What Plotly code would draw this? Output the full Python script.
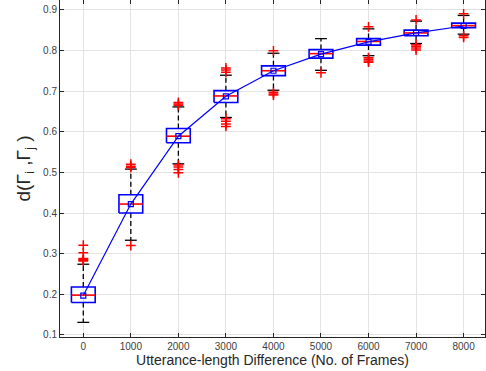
import plotly.graph_objects as go

positions = [0, 1000, 2000, 3000, 4000, 5000, 6000, 7000, 8000]
lower_whisker = [0.131, 0.333, 0.521, 0.635, 0.702, 0.751, 0.787, 0.817, 0.840]
q1 = [0.180, 0.400, 0.573, 0.672, 0.738, 0.781, 0.813, 0.836, 0.856]
median = [0.198, 0.422, 0.589, 0.688, 0.750, 0.792, 0.822, 0.843, 0.861]
q3 = [0.218, 0.445, 0.608, 0.701, 0.762, 0.802, 0.829, 0.850, 0.867]
upper_whisker = [0.274, 0.508, 0.661, 0.739, 0.793, 0.829, 0.853, 0.872, 0.886]
means = [0.197, 0.422, 0.589, 0.687, 0.750, 0.791, 0.821, 0.843, 0.860]
outliers = [
    [0.321, 0.302, 0.288, 0.286, 0.284, 0.282],
    [0.520, 0.515, 0.512, 0.320],
    [0.672, 0.668, 0.665, 0.518, 0.513, 0.507, 0.499],
    [0.757, 0.752, 0.746, 0.632, 0.626, 0.619, 0.613],
    [0.799, 0.697, 0.693, 0.690],
    [0.745],
    [0.858, 0.782, 0.778, 0.774, 0.771],
    [0.875, 0.814, 0.810, 0.806, 0.801],
    [0.890, 0.836, 0.832],
]
x_ticks = [0, 1000, 2000, 3000, 4000, 5000, 6000, 7000, 8000]
y_ticks = [0.1, 0.2, 0.3, 0.4, 0.5, 0.6, 0.7, 0.8, 0.9]

BOX_HW = 250
CAP_HW = 125

bx, by = [], []
mx, my = [], []
wx, wy = [], []
cx, cy = [], []
for p, lo, a, m, b, hi in zip(positions, lower_whisker, q1, median, q3, upper_whisker):
    bx += [p - BOX_HW, p + BOX_HW, p + BOX_HW, p - BOX_HW, p - BOX_HW, None]
    by += [a, a, b, b, a, None]
    mx += [p - BOX_HW, p + BOX_HW, None]
    my += [m, m, None]
    wx += [p, p, None, p, p, None]
    wy += [b, hi, None, a, lo, None]
    cx += [p - CAP_HW, p + CAP_HW, None, p - CAP_HW, p + CAP_HW, None]
    cy += [hi, hi, None, lo, lo, None]

ox, oy = [], []
for p, outs in zip(positions, outliers):
    for v in outs:
        ox.append(p)
        oy.append(v)

fig = go.Figure()
fig.add_trace(go.Scatter(x=wx, y=wy, mode="lines", line=dict(color="black", width=1.3, dash="5px,3px"), hoverinfo="skip"))
fig.add_trace(go.Scatter(x=cx, y=cy, mode="lines", line=dict(color="black", width=1.3), hoverinfo="skip"))
fig.add_trace(go.Scatter(x=ox, y=oy, mode="markers",
                         marker=dict(symbol="cross-thin", size=7, line=dict(color="red", width=1.5), color="red")))
fig.add_trace(go.Scatter(x=bx, y=by, mode="lines", line=dict(color="#0000ff", width=1.6), hoverinfo="skip"))
fig.add_trace(go.Scatter(x=mx, y=my, mode="lines", line=dict(color="red", width=1.6), hoverinfo="skip"))
fig.add_trace(go.Scatter(x=positions, y=means, mode="lines+markers",
                         line=dict(color="#0000ff", width=1.2),
                         marker=dict(symbol="square-open", size=5, color="#0000ff", line=dict(width=1.2))))

axis_common = dict(
    showline=True, linecolor="#262626", linewidth=1, mirror="ticks",
    ticks="inside", ticklen=4, tickcolor="#262626",
    showgrid=True, gridcolor="#e3e3e3", gridwidth=1, zeroline=False,
    automargin=False,
    tickfont=dict(family="Liberation Sans, Arial, sans-serif", size=10, color="#404040"),
)

fig.update_layout(
    width=486, height=371,
    margin=dict(l=60, r=1, t=0, b=34),
    paper_bgcolor="white", plot_bgcolor="white",
    showlegend=False,
    xaxis=dict(range=[-490, 8450], tickvals=x_ticks, ticktext=[str(t) for t in x_ticks],
               title=dict(text="Utterance-length Difference (No. of Frames)", standoff=2,
                          font=dict(family="Liberation Sans, Arial, sans-serif", size=14, color="#262626")),
               **axis_common),
    yaxis=dict(range=[0.095, 0.924], tickvals=y_ticks, ticktext=[f"{t:.1f}" for t in y_ticks],
               title=dict(text="d(Γ<sub>i</sub> ,Γ<sub>j</sub> )", standoff=7,
                          font=dict(family="Liberation Sans, Arial, sans-serif", size=19, color="#262626")),
               **axis_common),
)

fig.write_html("out.html", config={"displayModeBar": False},
               post_script="document.body.style.margin='0';document.body.style.padding='0';")
